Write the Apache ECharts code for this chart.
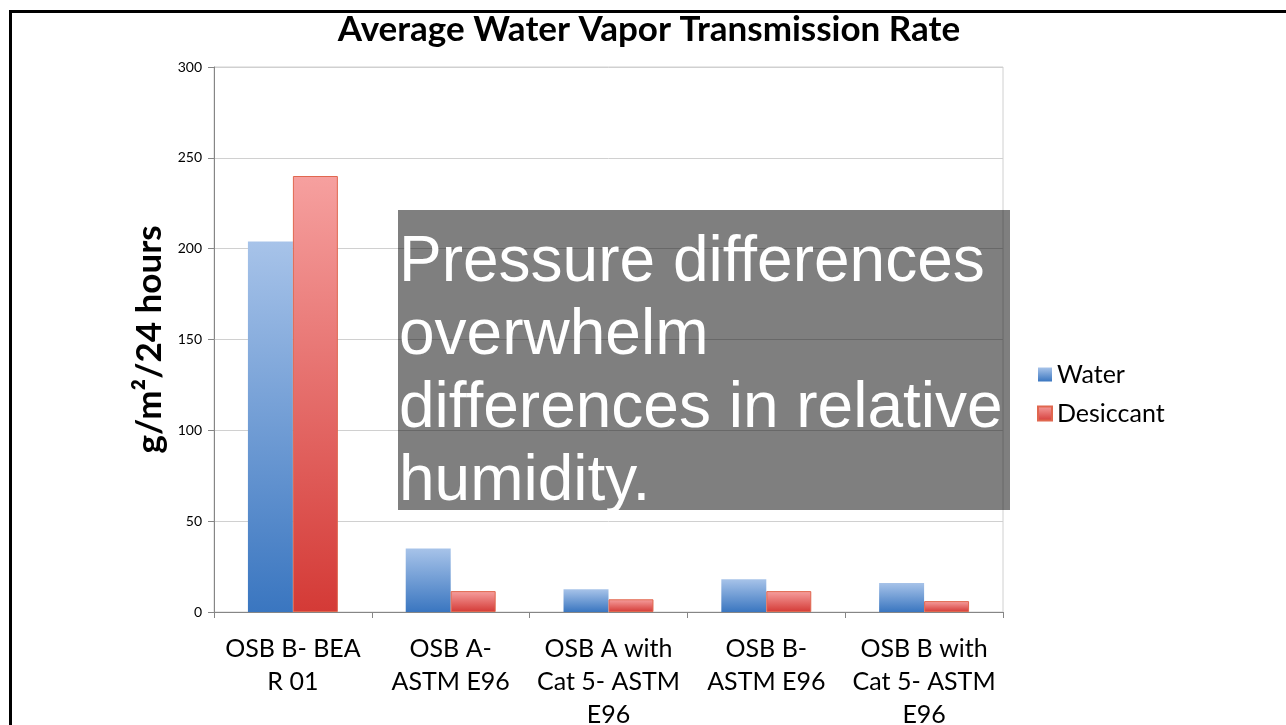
<!DOCTYPE html>
<html>
<head>
<meta charset="utf-8">
<script src="https://cdn.jsdelivr.net/npm/echarts@6/dist/echarts.min.js"></script>
<style>
  html, body { margin: 0; padding: 0; background: #fff; }
  #main { width: 1286px; height: 725px; }
</style>
</head>
<body>
<div id="main"></div>
<script>
// data
var categories = ['OSB B- BEA\nR 01', 'OSB A-\nASTM E96', 'OSB A with\nCat 5- ASTM\nE96', 'OSB B-\nASTM E96', 'OSB B with\nCat 5- ASTM\nE96'];
var water = [204, 35, 12.5, 18, 16];
var desiccant = [240, 11.5, 7, 11.5, 6];
var seriesNames = ['Water', 'Desiccant'];
var yTicks = {min: 0, max: 300, interval: 50};

var overlayText = 'Pressure differences\noverwhelm\ndifferences in relative\nhumidity.';

var myChart = echarts.init(document.getElementById('main'));

// 上浅下深的渐变
function grad(top, bottom) {
  return new echarts.graphic.LinearGradient(0, 0, 0, 1, [
    {offset: 0, color: top},
    {offset: 1, color: bottom}
  ]);
}

var option = {
  backgroundColor: '#fff',
  animation: false,
  title: {
    text: 'Average Water Vapor Transmission Rate',
    left: 644,
    top: 7,
    textAlign: 'center',
    textStyle: {fontFamily: 'Lato', fontWeight: 'bold', fontSize: 35, color: '#000'}
  },
  legend: {
    orient: 'vertical',
    left: 1032,
    top: 357,
    itemWidth: 14,
    itemHeight: 14,
    itemGap: 14,
    icon: 'rect',
    textStyle: {fontFamily: 'Lato', fontSize: 25, color: '#000'},
    data: seriesNames
  },
  grid: {
    left: 214,
    right: 283,
    top: 67,
    bottom: 113,
    outerBoundsMode: 'none',
    containLabel: false,
    show: true,
    borderColor: '#d0d0d0',
    borderWidth: 1
  },
  xAxis: {
    type: 'category',
    data: categories,
    axisLine: {lineStyle: {color: '#868686'}},
    axisTick: {show: true, length: 6, lineStyle: {color: '#868686'}},
    axisLabel: {
      interval: 0,
      margin: 20,
      fontFamily: 'Lato',
      fontSize: 25,
      lineHeight: 33,
      color: '#000'
    }
  },
  yAxis: {
    type: 'value',
    min: yTicks.min,
    max: yTicks.max,
    interval: yTicks.interval,
    name: 'g/m²/24 hours',
    nameLocation: 'middle',
    nameGap: 45,
    nameTextStyle: {fontFamily: 'Lato', fontWeight: 'bold', fontSize: 35, color: '#000'},
    axisLine: {show: true, lineStyle: {color: '#868686'}},
    axisTick: {show: true, length: 6, lineStyle: {color: '#868686'}},
    axisLabel: {fontFamily: 'Lato', fontSize: 14, color: '#000', margin: 12},
    splitLine: {lineStyle: {color: '#d0d0d0'}}
  },
  series: [
    {
      name: seriesNames[0],
      type: 'bar',
      data: water,
      barGap: '0%',
      barCategoryGap: '43%',
      itemStyle: {color: grad('#a7c3e9', '#3a76c0')}
    },
    {
      name: seriesNames[1],
      type: 'bar',
      data: desiccant,
      itemStyle: {color: grad('#f6a09f', '#d43a36'), borderColor: '#e0674f', borderWidth: 1}
    }
  ],
  graphic: [
    {
      type: 'rect',
      left: 398,
      top: 210,
      shape: {width: 612, height: 300},
      style: {fill: 'rgba(0,0,0,0.5)'},
      z: 100
    },
    {
      type: 'text',
      left: 399,
      top: 227,
      style: {
        text: overlayText,
        fill: '#fff',
        font: '64px "Liberation Sans"',
        lineHeight: 73
      },
      z: 101
    },
    {
      type: 'rect',
      left: 8,
      top: 9,
      shape: {width: 1400, height: 1000},
      style: {fill: 'none', stroke: '#000', lineWidth: 3},
      z: 102
    }
  ]
};

myChart.setOption(option);
</script>
</body>
</html>
